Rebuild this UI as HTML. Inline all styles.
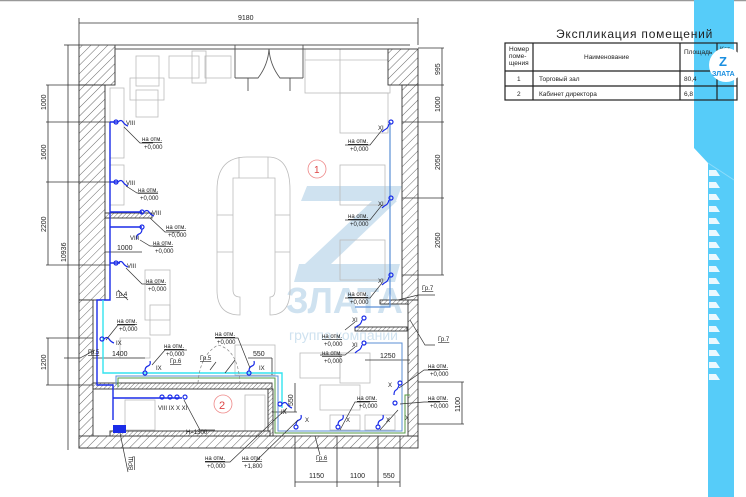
<!DOCTYPE html>
<html><head><meta charset="utf-8"><style>
html,body{margin:0;padding:0;background:#fff;width:746px;height:497px;overflow:hidden}
svg{display:block}
text{font-family:"Liberation Sans",sans-serif;fill:#222}
</style></head><body>
<svg width="746" height="497" viewBox="0 0 746 497" xmlns="http://www.w3.org/2000/svg">
<defs>
<pattern id="h" width="6" height="6" patternUnits="userSpaceOnUse" patternTransform="rotate(45)">
<rect width="6" height="6" fill="#fff"/><line x1="0" y1="0" x2="0" y2="6" stroke="#444" stroke-width="0.8"/></pattern>
<pattern id="h2" width="3" height="3" patternUnits="userSpaceOnUse" patternTransform="rotate(45)">
<rect width="3" height="3" fill="#fff"/><line x1="0" y1="0" x2="0" y2="3" stroke="#555" stroke-width="0.8"/></pattern>
</defs>
<line x1="0" y1="0.5" x2="746" y2="0.5" stroke="#999" stroke-width="1.5"/>

<!-- watermark -->
<g fill="#cfe2f0">
<polygon points="307,186 402,186 396,201 301,201"/>
<polygon points="372,201 397,201 331,264 305,264"/>
<polygon points="299,264 400,264 395,282 294,282"/>
</g>
<text x="286" y="313" font-size="36" font-weight="bold" style="fill:#cfe2f0">ЗЛАТА</text>
<text x="289" y="340" font-size="14" style="fill:#cfe2f0">группа компаний</text>

<!-- furniture (gray) -->
<g fill="none" stroke="#bbb" stroke-width="0.8">
<rect x="136" y="56" width="23" height="30"/><rect x="130" y="78" width="34" height="22"/><rect x="136" y="90" width="22" height="27"/>
<rect x="169" y="56" width="30" height="22"/><rect x="192" y="51" width="14" height="32"/><rect x="205" y="56" width="26" height="22"/>
<rect x="305" y="49" width="85" height="44"/><line x1="305" y1="60" x2="390" y2="60"/><line x1="340" y1="49" x2="340" y2="93"/>
<rect x="340" y="93" width="48" height="40"/><rect x="340" y="165" width="45" height="40"/><rect x="340" y="240" width="45" height="40"/>
<path d="M217 190 Q217 157 247 157 L268 157 Q290 157 290 190 L290 290 Q290 315 270 315 L270 297 Q275 297 275 290 L275 178 L233 178 L233 290 Q233 297 240 297 L240 315 Q217 315 217 290 Z"/>
<line x1="239" y1="157" x2="239" y2="178"/><line x1="268" y1="157" x2="268" y2="178"/>
<line x1="217" y1="215" x2="233" y2="215"/><line x1="217" y1="252" x2="233" y2="252"/><line x1="275" y1="215" x2="290" y2="215"/><line x1="275" y1="252" x2="290" y2="252"/>
<rect x="110" y="88" width="14" height="70"/><rect x="110" y="165" width="14" height="40"/>
<rect x="145" y="270" width="25" height="50"/><rect x="150" y="305" width="20" height="30"/>
<rect x="120" y="338" width="30" height="20"/><rect x="235" y="345" width="40" height="30"/>
<rect x="300" y="353" width="40" height="25"/><rect x="340" y="353" width="30" height="30"/><rect x="320" y="385" width="40" height="25"/>
<rect x="245" y="395" width="20" height="40"/><rect x="125" y="400" width="30" height="30"/><rect x="330" y="415" width="30" height="15"/><rect x="365" y="415" width="30" height="15"/>
</g>

<!-- walls -->
<g stroke="#333" stroke-width="0.9">
<rect x="79" y="45" width="36" height="40" fill="url(#h)"/>
<rect x="79" y="85" width="26" height="215" fill="url(#h)"/>
<rect x="79" y="300" width="14" height="148" fill="url(#h)"/>
<rect x="79" y="436" width="339" height="12" fill="url(#h)"/>
<rect x="388" y="49" width="30" height="36" fill="url(#h)"/>
<rect x="402" y="85" width="16" height="215" fill="url(#h)"/>
<rect x="408" y="300" width="10" height="136" fill="url(#h)"/>
<rect x="93" y="383" width="179" height="6" fill="url(#h2)"/>
<rect x="268" y="389" width="5" height="47" fill="url(#h2)"/>
<rect x="110" y="431" width="160" height="5" fill="url(#h2)"/>
<rect x="105" y="213" width="47" height="5" fill="url(#h2)"/>
<rect x="355" y="327" width="52" height="4" fill="url(#h2)"/>
<rect x="380" y="300" width="28" height="4" fill="url(#h2)"/>
</g>
<g stroke="#555" stroke-width="0.9" fill="none">
<line x1="79" y1="45" x2="410" y2="45"/><line x1="115" y1="49" x2="388" y2="49"/>
<line x1="235" y1="45" x2="235" y2="78"/><line x1="303" y1="45" x2="303" y2="78"/>
<path d="M235 78 L258 78 Q268 65 269 49"/><path d="M303 78 L280 78 Q270 65 269 49"/>
<line x1="248" y1="78" x2="248" y2="91"/><line x1="290" y1="78" x2="290" y2="91"/>
</g>

<!-- dimensions -->
<g stroke="#333" stroke-width="0.8" fill="none">
<line x1="79" y1="23" x2="418" y2="23"/><line x1="79" y1="18" x2="79" y2="45"/><line x1="418" y1="18" x2="418" y2="45"/>
<line x1="68" y1="45" x2="68" y2="450"/><line x1="64" y1="45" x2="79" y2="45"/>
<line x1="48" y1="85" x2="48" y2="265"/>
<line x1="46" y1="85" x2="105" y2="85"/><line x1="46" y1="122" x2="110" y2="122"/><line x1="46" y1="182" x2="110" y2="182"/><line x1="46" y1="265" x2="110" y2="265"/>
<line x1="48" y1="338" x2="48" y2="385"/><line x1="46" y1="338" x2="93" y2="338"/><line x1="46" y1="385" x2="93" y2="385"/>
<line x1="442" y1="48" x2="442" y2="275"/>
<line x1="418" y1="48" x2="444" y2="48"/><line x1="402" y1="85" x2="444" y2="85"/><line x1="402" y1="122" x2="444" y2="122"/><line x1="402" y1="198" x2="444" y2="198"/><line x1="402" y1="275" x2="444" y2="275"/>
<line x1="462" y1="382" x2="462" y2="424"/><line x1="418" y1="382" x2="464" y2="382"/><line x1="418" y1="424" x2="464" y2="424"/>
<line x1="295" y1="482" x2="400" y2="482"/>
<line x1="295" y1="436" x2="295" y2="487"/><line x1="337" y1="436" x2="337" y2="487"/><line x1="378" y1="436" x2="378" y2="487"/><line x1="400" y1="436" x2="400" y2="487"/>
<line x1="93" y1="358" x2="145" y2="358"/><line x1="105" y1="252" x2="142" y2="252"/>
<line x1="248" y1="358" x2="272" y2="358"/><line x1="272" y1="358" x2="272" y2="375"/>
<line x1="295" y1="383" x2="295" y2="412"/><line x1="272" y1="412" x2="297" y2="412"/>
<line x1="365" y1="360" x2="410" y2="360"/>
</g>
<g font-size="7">
<text x="238" y="20">9180</text>
<text transform="translate(46,110) rotate(-90)">1000</text>
<text transform="translate(46,160) rotate(-90)">1600</text>
<text transform="translate(46,232) rotate(-90)">2200</text>
<text transform="translate(66,262) rotate(-90)">10936</text>
<text transform="translate(46,370) rotate(-90)">1200</text>
<text transform="translate(440,75) rotate(-90)">995</text>
<text transform="translate(440,112) rotate(-90)">1000</text>
<text transform="translate(440,170) rotate(-90)">2050</text>
<text transform="translate(440,248) rotate(-90)">2050</text>
<text transform="translate(460,412) rotate(-90)">1100</text>
<text transform="translate(293,406) rotate(-90)">550</text>
<text x="309" y="478">1150</text><text x="350" y="478">1100</text><text x="383" y="478">550</text>
<text x="112" y="356">1400</text><text x="117" y="250">1000</text><text x="253" y="356">550</text><text x="380" y="358">1250</text>
</g>

<!-- wiring -->
<g fill="none" stroke-width="1.4">
<path d="M110 122 L110 300 L97 300 L97 385 L113 385 L113 398" stroke="#1a2ce8"/>
<path d="M110 212 L142 212 M110 227 L142 227 M110 263 L120 263 M110 182 L118 182 M110 122 L118 122" stroke="#1a2ce8"/>
<path d="M113 398 L113 420 M113 398 L182 398" stroke="#1a2ce8"/>
<path d="M103 300 L103 373 L282 373 L282 408" stroke="#33e3ef"/>
<path d="M118 387 L118 378 L275 378 L275 433 L405 433 L405 395 L410 395" stroke="#559944" stroke-width="1"/>
<path d="M116 385 L116 376 L278 376 L278 431 L402 431 L402 343 L365 343" stroke="#5b8fd6" stroke-width="1"/>
<path d="M390 122 L390 307 L355 307" stroke="#5b8fd6" stroke-width="1.2"/>
</g>
<rect x="113" y="425" width="13" height="8" fill="#1a2ce8"/>
<g fill="none" stroke="#1a2ce8" stroke-width="1.2">
<circle cx="116" cy="122" r="2"/><circle cx="116" cy="182" r="2"/><circle cx="142" cy="212" r="2"/><circle cx="142" cy="227" r="2"/><circle cx="116" cy="263" r="2"/>
<circle cx="102" cy="339" r="2"/><circle cx="145" cy="373" r="2"/><circle cx="249" cy="373" r="2"/><circle cx="280" cy="404" r="2"/>
<circle cx="162" cy="397" r="2"/><circle cx="170" cy="397" r="2"/><circle cx="177" cy="397" r="2"/><circle cx="185" cy="397" r="2"/>
<circle cx="391" cy="122" r="2"/><circle cx="391" cy="198" r="2"/><circle cx="391" cy="275" r="2"/><circle cx="364" cy="318" r="2"/><circle cx="364" cy="343" r="2"/>
<circle cx="400" cy="383" r="2"/><circle cx="395" cy="403" r="2"/><circle cx="338" cy="427" r="2"/><circle cx="378" cy="427" r="2"/><circle cx="296" cy="427" r="2"/>
<path d="M118 122 q3 -3 5 0 t5 4 M118 182 q3 -3 5 0 t5 4 M144 212 q3 -3 5 0 t5 4 M118 263 q3 -3 5 0 t5 4 M104 339 q3 -3 5 0 t5 4 M145 371 q0 -4 3 -5 t2 -5 M249 371 q0 -4 3 -5 t2 -5 M282 404 q3 -3 5 0 t5 4 M142 229 q0 4 -3 5 t-2 5"/>
<path d="M389 124 q-1 4 -3 5 t-4 3 M389 200 q-1 4 -3 5 t-4 3 M389 277 q-1 4 -3 5 t-4 3 M362 320 q-1 4 -3 5 t-4 3 M362 345 q-1 4 -3 5 t-4 3 M399 385 q-1 4 -3 5 t-2 5 M296 425 q0 -4 3 -5 t2 -5 M338 425 q0 -4 3 -5 t2 -5 M378 425 q0 -4 3 -5 t2 -5"/>
</g>

<!-- leaders -->
<g stroke="#333" stroke-width="0.7" fill="none">
<path d="M124 127 L140 143 L153 143 M126 186 L137 193 L158 193 M150 218 L165 232 L180 232 M140 240 L150 246 L166 246 M126 268 L142 284 L160 284"/>
<path d="M106 340 L118 325 L135 325 M152 365 L165 350 L187 350 M250 368 L238 338 L215 338 M287 408 L230 462 L205 462 M298 420 L255 462 M184 400 L200 430 L215 430"/>
<path d="M382 130 L370 145 L345 145 M382 205 L370 220 L345 220 M382 283 L370 298 L345 298 M355 322 L345 330 M355 347 L345 355 L320 355"/>
<path d="M399 388 L424 370 L440 370 M400 404 L424 402 L440 402 M340 430 L355 402 L370 402 M380 430 L398 410"/>
<path d="M118 290 L128 300 M95 350 L80 358 L64 358 M210 370 L216 362 M225 373 L235 360 M398 300 L418 295 L435 295 M410 320 L425 345 L435 345 M315 436 L320 455 M120 433 L128 472"/>
<path d="M198 383 Q200 355 218 345 Q238 350 240 383" stroke="#888" stroke-dasharray="3,2"/>
</g>
<g font-size="6">
<text x="126" y="125">VIII</text><text x="126" y="185">VIII</text><text x="152" y="215">VIII</text><text x="130" y="240">VIII</text><text x="127" y="268">VIII</text>
<text x="116" y="345">IX</text><text x="156" y="370">IX</text><text x="259" y="370">IX</text><text x="281" y="414">IX</text>
<text x="158" y="410">VIII IX  X  XI</text>
<text x="378" y="130">XI</text><text x="378" y="206">XI</text><text x="378" y="283">XI</text><text x="352" y="322">XI</text><text x="352" y="347">XI</text>
<text x="388" y="387">X</text><text x="405" y="420">X</text><text x="305" y="422">X</text><text x="346" y="422">X</text><text x="386" y="422">X</text>
<text x="88" y="354" text-decoration="underline">Гр.5</text><text x="116" y="296" text-decoration="underline">Гр.4</text><text x="170" y="363" text-decoration="underline">Гр.6</text><text x="200" y="360" text-decoration="underline">Гр.5</text>
<text x="422" y="290" text-decoration="underline">Гр.7</text><text x="438" y="341" text-decoration="underline">Гр.7</text><text x="316" y="460" text-decoration="underline">Гр.6</text>
<text x="186" y="434">H=1300</text>
<text transform="translate(133,470) rotate(-90)" text-decoration="underline">ВРЩ</text>
</g>
<g font-size="6">
<g text-decoration="underline">
<text x="142" y="141">на отм.</text><text x="138" y="192">на отм.</text><text x="166" y="229">на отм.</text><text x="153" y="245">на отм.</text><text x="146" y="283">на отм.</text>
<text x="117" y="323">на отм.</text><text x="164" y="348">на отм.</text><text x="215" y="336">на отм.</text><text x="205" y="460">на отм.</text><text x="242" y="460">на отм.</text>
<text x="348" y="143">на отм.</text><text x="348" y="218">на отм.</text><text x="348" y="296">на отм.</text><text x="322" y="338">на отм.</text><text x="322" y="355">на отм.</text>
<text x="428" y="368">на отм.</text><text x="428" y="400">на отм.</text><text x="357" y="400">на отм.</text></g>
<text x="144" y="149">+0,000</text><text x="140" y="200">+0,000</text><text x="168" y="237">+0,000</text><text x="155" y="253">+0,000</text><text x="148" y="291">+0,000</text>
<text x="119" y="331">+0,000</text><text x="166" y="356">+0,000</text><text x="217" y="344">+0,000</text><text x="207" y="468">+0,000</text><text x="244" y="468">+1,800</text>
<text x="350" y="151">+0,000</text><text x="350" y="226">+0,000</text><text x="350" y="304">+0,000</text><text x="324" y="346">+0,000</text><text x="324" y="363">+0,000</text>
<text x="430" y="376">+0,000</text><text x="430" y="408">+0,000</text><text x="359" y="408">+0,000</text>
</g>
<circle cx="317" cy="169" r="9" fill="none" stroke="#e88" stroke-width="0.8"/><text x="314" y="173" font-size="10" style="fill:#d44">1</text>
<circle cx="223" cy="404" r="9" fill="none" stroke="#e88" stroke-width="0.8"/><text x="219" y="409" font-size="11" style="fill:#d44">2</text>

<!-- blue stripe -->
<polygon points="694,0 734,0 734,497 708,497 708,163 694,148" fill="#56ccf9"/>
<line x1="708" y1="163" x2="734" y2="180" stroke="#8ddcfb" stroke-width="1"/>
<g fill="#eaf8fe">
<polygon points="709,170 716,170 720,176 709,176"/>
<polygon points="709,182 716,182 720,188 709,188"/>
<polygon points="709,194 716,194 720,200 709,200"/>
<polygon points="709,206 716,206 720,212 709,212"/>
<polygon points="709,218 716,218 720,224 709,224"/>
<polygon points="709,230 716,230 720,236 709,236"/>
<polygon points="709,242 716,242 720,248 709,248"/>
<polygon points="709,254 716,254 720,260 709,260"/>
<polygon points="709,266 716,266 720,272 709,272"/>
<polygon points="709,278 716,278 720,284 709,284"/>
<polygon points="709,290 716,290 720,296 709,296"/>
<polygon points="709,302 716,302 720,308 709,308"/>
<polygon points="709,314 716,314 720,320 709,320"/>
<polygon points="709,326 716,326 720,332 709,332"/>
<polygon points="709,338 716,338 720,344 709,344"/>
<polygon points="709,350 716,350 720,356 709,356"/>
<polygon points="709,362 716,362 720,368 709,368"/>
<polygon points="709,374 716,374 720,380 709,380"/>
</g>

<!-- table -->
<text x="556" y="38" font-size="12" letter-spacing="0.8">Экспликация помещений</text>
<g stroke="#222" stroke-width="1.2" fill="none">
<rect x="505" y="43" width="232" height="57"/>
<line x1="505" y1="71" x2="737" y2="71"/><line x1="505" y1="86" x2="737" y2="86"/>
<line x1="533" y1="43" x2="533" y2="100"/><line x1="680" y1="43" x2="680" y2="100"/><line x1="717" y1="43" x2="717" y2="100"/>
</g>
<g font-size="6.5">
<text x="509" y="51">Номер</text><text x="509" y="58">поме-</text><text x="509" y="65">щения</text>
<text x="584" y="59">Наименование</text>
<text x="684" y="54">Площадь</text><text x="720" y="51">Кат.</text>
<text x="517" y="81">1</text><text x="517" y="96">2</text>
<text x="539" y="81">Торговый зал</text><text x="539" y="96">Кабинет директора</text>
<text x="684" y="81">80,4</text><text x="684" y="96">6,8</text>
</g>
<circle cx="726" cy="65" r="17" fill="#fff"/>
<text x="719" y="66" font-size="13" font-weight="bold" style="fill:#1a8fe0">Z</text>
<text x="712" y="76" font-size="7" font-weight="bold" style="fill:#1a8fe0">ЗЛАТА</text>
</svg>
</body></html>
